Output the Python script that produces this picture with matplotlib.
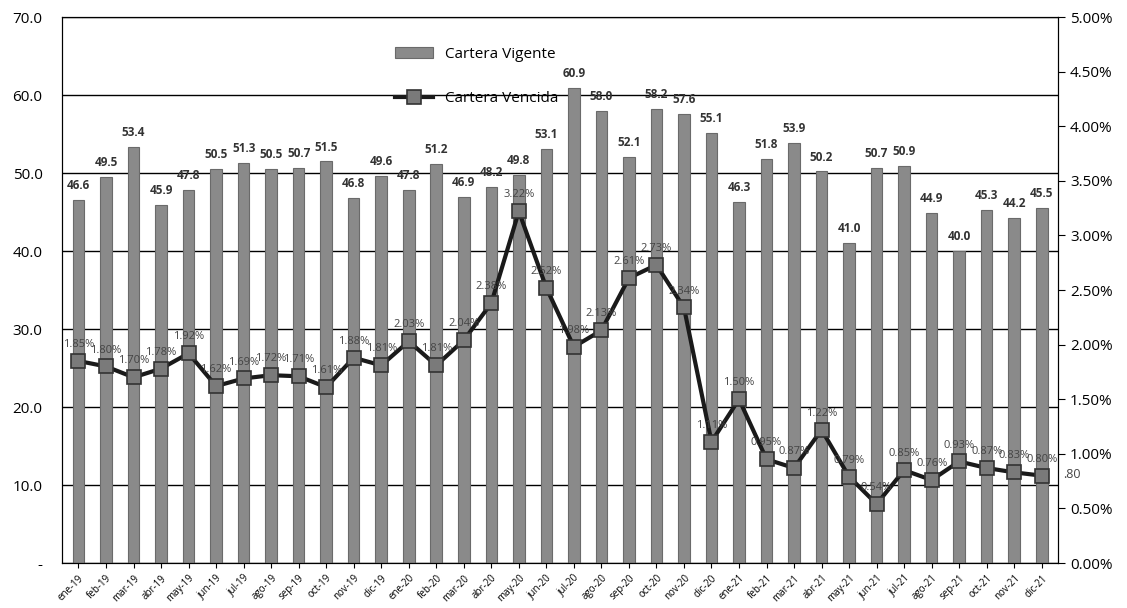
import numpy as np
import matplotlib
matplotlib.use("Agg")
import matplotlib.pyplot as plt
from matplotlib.ticker import FuncFormatter

months = ["ene-19", "feb-19", "mar-19", "abr-19", "may-19", "jun-19", "jul-19", "ago-19",
          "sep-19", "oct-19", "nov-19", "dic-19", "ene-20", "feb-20", "mar-20", "abr-20",
          "may-20", "jun-20", "jul-20", "ago-20", "sep-20", "oct-20", "nov-20", "dic-20",
          "ene-21", "feb-21", "mar-21", "abr-21", "may-21", "jun-21", "jul-21", "ago-21",
          "sep-21", "oct-21", "nov-21", "dic-21"]
vigente = [46.6, 49.5, 53.4, 45.9, 47.8, 50.5, 51.3, 50.5, 50.7, 51.5, 46.8, 49.6,
           47.8, 51.2, 46.9, 48.2, 49.8, 53.1, 60.9, 58.0, 52.1, 58.2, 57.6, 55.1,
           46.3, 51.8, 53.9, 50.2, 41.0, 50.7, 50.9, 44.9, 40.0, 45.3, 44.2, 45.5]
vencida = [1.85, 1.80, 1.70, 1.78, 1.92, 1.62, 1.69, 1.72, 1.71, 1.61, 1.88, 1.81,
           2.03, 1.81, 2.04, 2.38, 3.22, 2.52, 1.98, 2.13, 2.61, 2.73, 2.34, 1.11,
           1.50, 0.95, 0.87, 1.22, 0.79, 0.54, 0.85, 0.76, 0.93, 0.87, 0.83, 0.80]

plt.rcParams["font.family"] = ["Open Sans", "DejaVu Sans"]
fig, ax = plt.subplots(figsize=(11.27, 6.08), dpi=100)
fig.subplots_adjust(left=0.055, right=0.939, top=0.972, bottom=0.074)

x = np.arange(len(months))
ax.bar(x, vigente, width=0.42, color="#8a8a8a", edgecolor="#6a6a6a", linewidth=0.8,
       label="Cartera Vigente", zorder=2)
for xi, v in zip(x, vigente):
    ax.text(xi, v + 1.0, f"{v:.1f}", ha="center", va="bottom", fontsize=8.5,
            fontweight="bold", color="#333333", zorder=5)

ax.set_ylim(0, 70)
ax.set_yticks(np.arange(0, 71, 10))
ax.yaxis.set_major_formatter(FuncFormatter(lambda v, p: "-" if v == 0 else f"{v:.1f}"))
ax.grid(axis="y", color="black", linewidth=1.0, zorder=1)
ax.set_xlim(-0.6, len(months) - 0.4)
ax.set_xticks(x)
ax.set_xticklabels(months, rotation=45, ha="right", rotation_mode="anchor", fontsize=7)
ax.tick_params(axis="y", labelsize=11, length=0, pad=14)
for s in ax.spines.values():
    s.set_color("black")

ax2 = ax.twinx()
ax2.plot(x, vencida, color="#1a1a1a", linewidth=3, marker="s", markersize=10,
         markerfacecolor="#7a7a7a", markeredgecolor="#333333", markeredgewidth=1.2,
         label="Cartera Vencida", zorder=4)
for xi, v in zip(x, vencida):
    ax2.text(xi, v + 0.1, f"{v:.2f}%", ha="center", va="bottom", fontsize=8,
             color="#444444", zorder=5)
ax2.set_ylim(0, 5)
ax2.set_yticks(np.arange(0, 5.01, 0.5))
ax2.yaxis.set_major_formatter(FuncFormatter(lambda v, p: f"{v:.2f}%"))
ax2.tick_params(axis="y", labelsize=11, length=5)
ax2.text(1.005, 0.156, ".80", transform=ax2.transAxes, fontsize=9, color="#444444")

h1, l1 = ax.get_legend_handles_labels()
h2, l2 = ax2.get_legend_handles_labels()
ax2.legend(h1 + h2, l1 + l2, loc="upper left", bbox_to_anchor=(0.32, 0.97), frameon=False,
           fontsize=11, handlelength=2.5, labelspacing=1.9)

fig.savefig("out.png", dpi=100)
